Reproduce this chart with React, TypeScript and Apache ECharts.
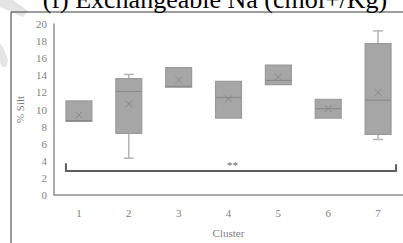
import React, { useEffect, useRef } from "react";
import * as echarts from "echarts";

const categories = ["1", "2", "3", "4", "5", "6", "7"];
const minV = [8.6, 4.3, 12.6, 9.0, 12.9, 9.0, 6.5];
const q1V = [8.6, 7.2, 12.6, 9.0, 12.9, 9.0, 7.1];
const medianV = [8.7, 12.1, 12.7, 11.4, 13.4, 10.1, 11.1];
const q3V = [11.0, 13.6, 14.9, 13.3, 15.2, 11.2, 17.7];
const maxV = [11.0, 14.1, 14.9, 13.3, 15.2, 11.2, 19.2];
const meanV = [9.35, 10.65, 13.45, 11.25, 13.8, 10.1, 12.0];

const yTicks = { min: 0, max: 20, interval: 2 };
const bracket = { from: 0, to: 6, level: 2.8, tick: 3.7, label: "**", labelAt: 3, labelValue: 3.9 };
const titleText = "(f) Exchangeable Na (cmol+/Kg)";

const SERIF = "'Liberation Serif', 'Times New Roman', serif";

export default function App() {
  const ref = useRef<HTMLDivElement>(null);
  useEffect(() => {
    if (!ref.current) return;
    const chart = echarts.init(ref.current, undefined, { renderer: "svg" });
    const boxData = categories.map((_, i) => [i, minV[i], q1V[i], medianV[i], q3V[i], maxV[i], meanV[i]]);
    chart.setOption({
      animation: false,
      backgroundColor: "#ffffff",
      textStyle: { fontFamily: SERIF },
      grid: { left: 54, right: -1, top: 24, bottom: 40 },
      xAxis: {
        type: "category",
        data: categories,
        name: "Cluster",
        nameLocation: "middle",
        nameGap: 32,
        nameTextStyle: { color: "#7f7f7f", fontSize: 11, fontFamily: SERIF },
        axisLine: { lineStyle: { color: "#8f8f8f", width: 1.5 } },
        axisTick: { show: false },
        axisLabel: { color: "#7f7f7f", fontSize: 11, fontFamily: SERIF, margin: 12 },
      },
      yAxis: {
        type: "value",
        min: yTicks.min,
        max: yTicks.max,
        interval: yTicks.interval,
        name: "% Silt",
        nameLocation: "middle",
        nameGap: 25,
        nameTextStyle: { color: "#7f7f7f", fontSize: 11, fontFamily: SERIF },
        axisLine: { show: true, lineStyle: { color: "#8f8f8f", width: 1.5 } },
        axisTick: { show: false },
        splitLine: { show: false },
        axisLabel: { color: "#7f7f7f", fontSize: 11, fontFamily: SERIF, margin: 7 },
      },
      graphic: [
        { type: "polygon", shape: { points: [[0, 0], [13, 0], [28, 11], [23, 17], [0, 7]] }, style: { fill: "#e4e4e4" }, z: 0 },
        { type: "polygon", shape: { points: [[0, 44], [3, 47], [8, 60], [6, 67], [2, 67], [0, 62]] }, style: { fill: "#e4e4e4" }, z: 0 },
        { type: "rect", shape: { x: 11, y: 12, width: 500, height: 400 }, style: { fill: "none", stroke: "#3a3a3a", lineWidth: 1 }, z: 1 },
        {
          type: "text",
          x: 215,
          y: -1,
          style: { text: titleText, font: `26px ${SERIF}`, fill: "#000", align: "center", verticalAlign: "middle" },
          z: 2,
        },
      ],
      series: [
        {
          type: "custom",
          data: boxData,
          renderItem: (params: any, api: any) => {
            const i = api.value(0);
            const w = api.size([1, 0])[0] * 0.52;
            const pMin = api.coord([i, api.value(1)]);
            const pQ1 = api.coord([i, api.value(2)]);
            const pMed = api.coord([i, api.value(3)]);
            const pQ3 = api.coord([i, api.value(4)]);
            const pMax = api.coord([i, api.value(5)]);
            const pMean = api.coord([i, api.value(6)]);
            const cx = pQ1[0];
            const cap = 5;
            const wStyle = { stroke: "#b4b4b4", lineWidth: 1.5 };
            const children: any[] = [];
            if (pMax[1] < pQ3[1] - 0.5) {
              children.push({ type: "line", shape: { x1: cx, y1: pMax[1], x2: cx, y2: pQ3[1] }, style: wStyle });
              children.push({ type: "line", shape: { x1: cx - cap, y1: pMax[1], x2: cx + cap, y2: pMax[1] }, style: wStyle });
            }
            if (pMin[1] > pQ1[1] + 0.5) {
              children.push({ type: "line", shape: { x1: cx, y1: pQ1[1], x2: cx, y2: pMin[1] }, style: wStyle });
              children.push({ type: "line", shape: { x1: cx - cap, y1: pMin[1], x2: cx + cap, y2: pMin[1] }, style: wStyle });
            }
            children.push({
              type: "rect",
              shape: { x: cx - w / 2, y: pQ3[1], width: w, height: pQ1[1] - pQ3[1] },
              style: { fill: "#a6a6a6", stroke: "#9a9a9a", lineWidth: 1.2 },
            });
            children.push({
              type: "line",
              shape: { x1: cx - w / 2, y1: pMed[1], x2: cx + w / 2, y2: pMed[1] },
              style: { stroke: "#8a8a8a", lineWidth: 1.2 },
            });
            const s = 3.5;
            children.push({
              type: "line",
              shape: { x1: cx - s, y1: pMean[1] - s, x2: cx + s, y2: pMean[1] + s },
              style: { stroke: "#8a8a8a", lineWidth: 1 },
            });
            children.push({
              type: "line",
              shape: { x1: cx - s, y1: pMean[1] + s, x2: cx + s, y2: pMean[1] - s },
              style: { stroke: "#8a8a8a", lineWidth: 1 },
            });
            return { type: "group", children };
          },
          z: 3,
        },
        {
          type: "custom",
          data: [[bracket.from, bracket.to, bracket.level, bracket.tick, bracket.labelAt, bracket.labelValue]],
          renderItem: (params: any, api: any) => {
            const a = api.coord([api.value(0), api.value(2)]);
            const b = api.coord([api.value(1), api.value(2)]);
            const t = api.coord([api.value(0), api.value(3)]);
            const lbl = api.coord([api.value(4), api.value(5)]);
            const x1 = a[0] - 13;
            const x2 = b[0] + 18;
            const y = a[1];
            return {
              type: "group",
              children: [
                {
                  type: "polyline",
                  shape: { points: [[x1, t[1]], [x1, y], [x2, y], [x2, t[1] + 1]] },
                  style: { stroke: "#5e5e5e", lineWidth: 2, fill: "none" },
                },
                {
                  type: "text",
                  style: {
                    text: bracket.label,
                    x: lbl[0] + 4,
                    y: lbl[1] + 3,
                    fill: "#666",
                    font: `11px ${SERIF}`,
                    align: "center",
                    verticalAlign: "middle",
                  },
                },
              ],
            };
          },
          z: 4,
        },
      ],
    });
    return () => chart.dispose();
  }, []);
  return <div ref={ref} style={{ position: "absolute", left: 0, top: 0, width: 403, height: 243 }} />;
}
